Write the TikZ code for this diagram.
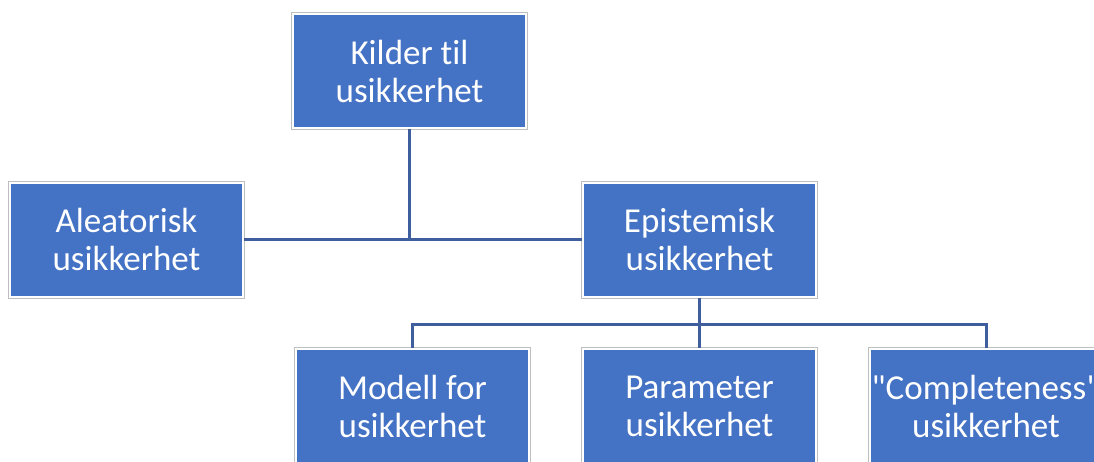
\documentclass[tikz,border=0pt]{standalone}
\usepackage{fontspec}
\setmainfont{Carlito}[Ligatures={TeXOff,NoCommon}]
\definecolor{boxblue}{HTML}{4472C4}
\definecolor{boxedge}{HTML}{BFBFBF}
\definecolor{linkblue}{RGB}{62,94,158}
\begin{document}
\begin{tikzpicture}[x=1pt,y=-1pt,
  box/.style={rectangle, fill=boxblue, draw=white, line width=2pt,
    preaction={draw=boxedge, line width=4pt},
    minimum width=233pt, minimum height=114pt, inner sep=0pt,
    text=white, align=center, font=\fontsize{35}{38}\selectfont},
  link/.style={draw=linkblue, line width=3pt}]
\useasboundingbox (0,0) rectangle (1094,461);
\clip (0,0) rectangle (1094,461);
% level 0
\node[box] (kilder) at (409.5,71) {Kilder til\\usikkerhet};
% level 1
\node[box] (alea) at (126.5,239.5) {Aleatorisk\\usikkerhet};
\node[box] (epi) at (699.5,239.5) {Epistemisk\\usikkerhet};
% level 2
\node[box] (modell) at (412.5,406) {Modell for\\usikkerhet};
\node[box] (param) at (699.5,406) {Parameter\\usikkerhet};
\node[box] (compl) at (986,406) {"Completeness"\\usikkerhet};
% junctions
\coordinate (j1) at (kilder.south |- alea.east);
\coordinate (bus) at (699.5,324);
% connectors
\draw[link] (alea.east) -- (epi.west);
\draw[link] (kilder.south) -- (j1);
\draw[link] (epi.south) -- (bus);
\draw[link] (modell.north) |- (bus) -| (compl.north);
\draw[link] (bus) -- (param.north);
\end{tikzpicture}
\end{document}
